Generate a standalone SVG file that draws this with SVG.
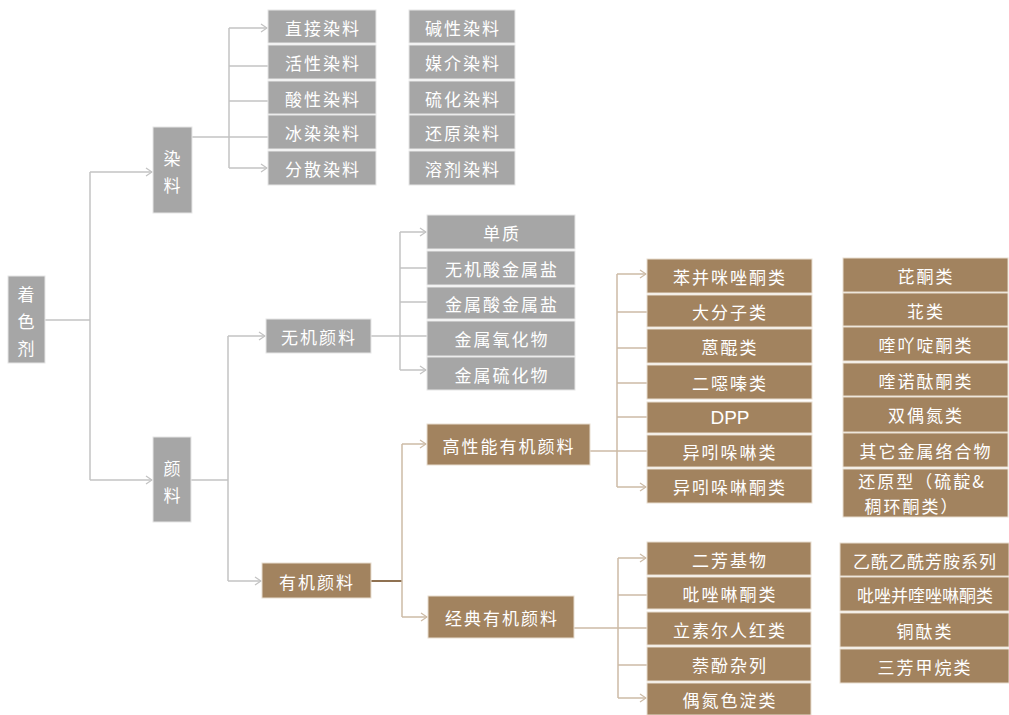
<svg xmlns="http://www.w3.org/2000/svg" width="1009" height="715" viewBox="0 0 1009 715">
<defs>
<style>
.g{fill:#a6a6a6;stroke:#e6e6e6;stroke-width:1}
.b{fill:#a2835f;stroke:#e8ddd0;stroke-width:1}
text{font-family:"Noto Sans CJK SC","Noto Sans",sans-serif;font-size:17px;fill:#ffffff;text-anchor:middle;dominant-baseline:central;letter-spacing:2px}
.lg{fill:none;stroke:#c3c3c3;stroke-width:1.5}
.lb{fill:none;stroke:#cdbba6;stroke-width:1.5}
.ld{fill:none;stroke:#8f7151;stroke-width:2}
</style>
<marker id="ag" markerWidth="8" markerHeight="10" refX="7" refY="5" orient="auto" markerUnits="userSpaceOnUse"><path d="M1,1 L7,5 L1,9" fill="none" stroke="#c3c3c3" stroke-width="1.3"/></marker>
<marker id="ab" markerWidth="8" markerHeight="10" refX="7" refY="5" orient="auto" markerUnits="userSpaceOnUse"><path d="M1,1 L7,5 L1,9" fill="none" stroke="#cdbba6" stroke-width="1.3"/></marker>
</defs>
<rect width="1009" height="715" fill="#ffffff"/>
<g id="connectors">
<path class="lg" d="M45,320 H90 M90,172 V480"/>
<path class="lg" d="M90,172 H152" marker-end="url(#ag)"/>
<path class="lg" d="M90,480 H152" marker-end="url(#ag)"/>
<path class="lg" d="M192,137 H268 M229,28 V168 M229,66 H268 M229,101 H268"/>
<path class="lg" d="M229,28 H267" marker-end="url(#ag)"/>
<path class="lg" d="M229,168 H267" marker-end="url(#ag)"/>
<path class="lg" d="M191,480 H228 M228,336 V581"/>
<path class="lg" d="M228,336 H265" marker-end="url(#ag)"/>
<path class="lg" d="M228,581 H261" marker-end="url(#ag)"/>
<path class="lg" d="M371,336 H427 M400,232 V370 M400,268 H427 M400,302 H427"/>
<path class="lg" d="M400,232 H426" marker-end="url(#ag)"/>
<path class="lg" d="M400,370 H426" marker-end="url(#ag)"/>
<path class="ld" d="M371,581 H402"/>
<path class="lb" d="M402,444 V617"/>
<path class="lb" d="M402,444 H426" marker-end="url(#ab)"/>
<path class="lb" d="M402,617 H427" marker-end="url(#ab)"/>
<path class="lb" d="M590,451 H647 M617,274 V487 M617,312 H647 M617,348 H647 M617,383 H647 M617,417 H647"/>
<path class="lb" d="M617,274 H646" marker-end="url(#ab)"/>
<path class="lb" d="M617,487 H646" marker-end="url(#ab)"/>
<path class="lb" d="M574,628 H647 M618,558 V698 M618,595 H647 M618,665 H647"/>
<path class="lb" d="M618,558 H646" marker-end="url(#ab)"/>
<path class="lb" d="M618,698 H646" marker-end="url(#ab)"/>
</g>
<g id="n-zhuoseji"><rect class="g" x="8" y="276" width="37" height="87"/><text x="27" y="293">着</text><text x="27" y="320">色</text><text x="27" y="347">剂</text></g>
<g id="n-ranliao"><rect class="g" x="153" y="127" width="39" height="86"/><text x="173" y="157">染</text><text x="173" y="184">料</text></g>
<g id="n-yanliao"><rect class="g" x="153" y="437" width="38" height="85"/><text x="173" y="467">颜</text><text x="173" y="494">料</text></g>
<g id="n-d1"><rect class="g" x="268" y="10" width="108" height="33"/><text x="323" y="27">直接染料</text></g>
<g id="n-d2"><rect class="g" x="268" y="45" width="108" height="34"/><text x="323" y="62">活性染料</text></g>
<g id="n-d3"><rect class="g" x="268" y="81" width="108" height="33"/><text x="323" y="98">酸性染料</text></g>
<g id="n-d4"><rect class="g" x="268" y="115" width="108" height="34"/><text x="323" y="132">冰染染料</text></g>
<g id="n-d5"><rect class="g" x="268" y="151" width="108" height="34"/><text x="323" y="168">分散染料</text></g>
<g id="n-d6"><rect class="g" x="409" y="10" width="106" height="33"/><text x="463" y="27">碱性染料</text></g>
<g id="n-d7"><rect class="g" x="409" y="45" width="106" height="34"/><text x="463" y="62">媒介染料</text></g>
<g id="n-d8"><rect class="g" x="409" y="81" width="106" height="33"/><text x="463" y="98">硫化染料</text></g>
<g id="n-d9"><rect class="g" x="409" y="115" width="106" height="34"/><text x="463" y="132">还原染料</text></g>
<g id="n-d10"><rect class="g" x="409" y="151" width="106" height="34"/><text x="463" y="168">溶剂染料</text></g>
<g id="n-wuji"><rect class="g" x="266" y="319" width="105" height="34"/><text x="319" y="336">无机颜料</text></g>
<g id="n-i1"><rect class="g" x="427" y="215" width="148" height="34"/><text x="502" y="232">单质</text></g>
<g id="n-i2"><rect class="g" x="427" y="251" width="148" height="34"/><text x="502" y="268">无机酸金属盐</text></g>
<g id="n-i3"><rect class="g" x="427" y="287" width="148" height="32"/><text x="502" y="303">金属酸金属盐</text></g>
<g id="n-i4"><rect class="g" x="427" y="321" width="148" height="35"/><text x="502" y="338">金属氧化物</text></g>
<g id="n-i5"><rect class="g" x="427" y="357" width="148" height="33"/><text x="502" y="374">金属硫化物</text></g>
<g id="n-gaoxingneng"><rect class="b" x="427" y="424" width="163" height="41"/><text x="509" y="445">高性能有机颜料</text></g>
<g id="n-youji"><rect class="b" x="262" y="563" width="109" height="35"/><text x="317" y="581">有机颜料</text></g>
<g id="n-jingdian"><rect class="b" x="428" y="596" width="146" height="42"/><text x="502" y="617">经典有机颜料</text></g>
<g id="n-h1"><rect class="b" x="647" y="259" width="165" height="34"/><text x="730" y="276">苯并咪唑酮类</text></g>
<g id="n-h2"><rect class="b" x="647" y="295" width="165" height="32"/><text x="730" y="311">大分子类</text></g>
<g id="n-h3"><rect class="b" x="647" y="329" width="165" height="34"/><text x="730" y="346">蒽醌类</text></g>
<g id="n-h4"><rect class="b" x="647" y="365" width="165" height="34"/><text x="730" y="382">二噁嗪类</text></g>
<g id="n-h5"><rect class="b" x="647" y="402" width="165" height="31"/><text x="730" y="417" style="font-family:'Liberation Sans',sans-serif;font-size:19px;letter-spacing:0">DPP</text></g>
<g id="n-h6"><rect class="b" x="647" y="435" width="165" height="32"/><text x="730" y="451">异吲哚啉类</text></g>
<g id="n-h7"><rect class="b" x="647" y="469" width="165" height="34"/><text x="730" y="486">异吲哚啉酮类</text></g>
<g id="n-h8"><rect class="b" x="843" y="258" width="165" height="34"/><text x="926" y="275">芘酮类</text></g>
<g id="n-h9"><rect class="b" x="843" y="293" width="165" height="33"/><text x="926" y="310">苝类</text></g>
<g id="n-h10"><rect class="b" x="843" y="327" width="165" height="34"/><text x="926" y="344">喹吖啶酮类</text></g>
<g id="n-h11"><rect class="b" x="843" y="363" width="165" height="33"/><text x="926" y="380">喹诺酞酮类</text></g>
<g id="n-h12"><rect class="b" x="843" y="397" width="165" height="35"/><text x="926" y="414">双偶氮类</text></g>
<g id="n-h13"><rect class="b" x="843" y="433" width="165" height="34"/><text x="926" y="450">其它金属络合物</text></g>
<g id="n-h14"><rect class="b" x="843" y="469" width="165" height="48"/><text x="922" y="480">还原型（硫靛&amp;</text><text x="912" y="505">稠环酮类）</text></g>
<g id="n-c1"><rect class="b" x="647" y="542" width="164" height="33"/><text x="730" y="559">二芳基物</text></g>
<g id="n-c2"><rect class="b" x="647" y="577" width="164" height="32"/><text x="730" y="593">吡唑啉酮类</text></g>
<g id="n-c3"><rect class="b" x="647" y="612" width="164" height="33"/><text x="730" y="629">立素尔人红类</text></g>
<g id="n-c4"><rect class="b" x="647" y="647" width="164" height="34"/><text x="730" y="664">萘酚杂列</text></g>
<g id="n-c5"><rect class="b" x="647" y="683" width="164" height="32"/><text x="730" y="699">偶氮色淀类</text></g>
<g id="n-c6"><rect class="b" x="840" y="543" width="169" height="33"/><text x="925" y="560" style="letter-spacing:1px">乙酰乙酰芳胺系列</text></g>
<g id="n-c7"><rect class="b" x="840" y="577" width="169" height="34"/><text x="925" y="594" style="letter-spacing:0">吡唑并喹唑啉酮类</text></g>
<g id="n-c8"><rect class="b" x="840" y="613" width="169" height="34"/><text x="925" y="630">铜酞类</text></g>
<g id="n-c9"><rect class="b" x="840" y="649" width="169" height="34"/><text x="925" y="666">三芳甲烷类</text></g>
</svg>
